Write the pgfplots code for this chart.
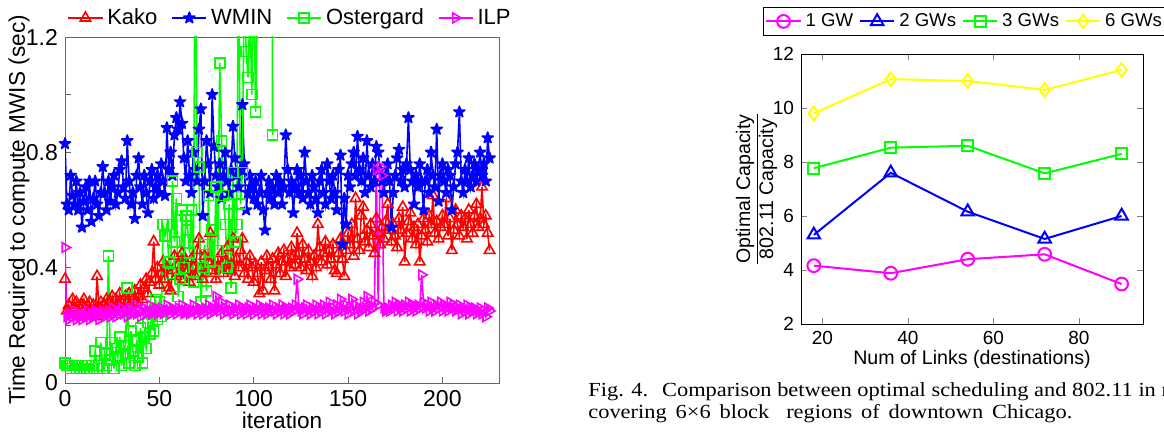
\documentclass[border=0pt]{standalone}
\usepackage{fontspec}
\setmainfont{Liberation Sans}
\newfontfamily\capfont[FakeStretch=1.12]{Liberation Serif}
\usepackage{pgfplots}
\usepackage{pgfplotstable}
\pgfplotsset{compat=1.18}
\usetikzlibrary{plotmarks}
\definecolor{mgreen}{rgb}{0,1,0}
\definecolor{mmag}{rgb}{1,0,1}
\definecolor{myel}{rgb}{1,1,0}
\pgfdeclareplotmark{pentagram}{%
  \pgfpathmoveto{\pgfpointpolar{90}{\pgfplotmarksize}}%
  \pgfpathlineto{\pgfpointpolar{234}{\pgfplotmarksize}}%
  \pgfpathlineto{\pgfpointpolar{18}{\pgfplotmarksize}}%
  \pgfpathlineto{\pgfpointpolar{162}{\pgfplotmarksize}}%
  \pgfpathlineto{\pgfpointpolar{306}{\pgfplotmarksize}}%
  \pgfpathclose
  \pgfusepathqfillstroke}

\pgfplotstableread[row sep=\\]{
y\\
0.36\\0.25\\0.27\\0.24\\0.29\\0.26\\0.28\\0.25\\0.23\\0.27\\0.29\\
0.26\\0.24\\0.28\\0.25\\0.27\\0.23\\0.37\\0.26\\0.28\\0.25\\
0.27\\0.29\\0.25\\0.28\\0.30\\0.26\\0.29\\0.27\\0.31\\0.28\\
0.26\\0.30\\0.28\\0.31\\0.27\\0.29\\0.32\\0.28\\0.30\\0.34\\
0.29\\0.33\\0.36\\0.31\\0.35\\0.38\\0.49\\0.36\\0.40\\0.34\\
0.38\\0.42\\0.36\\0.40\\0.33\\0.32\\0.39\\0.44\\0.37\\0.41\\
0.38\\0.45\\0.36\\0.42\\0.39\\0.35\\0.43\\0.40\\0.37\\0.46\\
0.50\\0.40\\0.36\\0.44\\0.38\\0.42\\0.52\\0.39\\0.41\\0.36\\
0.43\\0.40\\0.45\\0.38\\0.42\\0.47\\0.39\\0.41\\0.50\\0.37\\
0.43\\0.40\\0.46\\0.50\\0.38\\0.42\\0.36\\0.44\\0.40\\0.35\\
0.41\\0.38\\0.31\\0.42\\0.32\\0.39\\0.44\\0.40\\0.36\\0.43\\
0.32\\0.41\\0.45\\0.38\\0.42\\0.46\\0.37\\0.43\\0.40\\0.47\\
0.44\\0.41\\0.52\\0.45\\0.40\\0.48\\0.43\\0.39\\0.46\\0.42\\
0.37\\0.44\\0.40\\0.55\\0.47\\0.42\\0.45\\0.49\\0.41\\0.46\\
0.43\\0.48\\0.39\\0.38\\0.45\\0.50\\0.43\\0.37\\0.46\\0.52\\
0.48\\0.55\\0.44\\0.64\\0.50\\0.46\\0.58\\0.61\\0.49\\0.53\\
0.47\\0.55\\0.51\\0.45\\0.57\\0.52\\0.48\\0.54\\0.50\\0.56\\
0.62\\0.53\\0.49\\0.55\\0.51\\0.47\\0.57\\0.53\\0.61\\0.42\\
0.52\\0.56\\0.59\\0.50\\0.54\\0.48\\0.55\\0.42\\0.51\\0.57\\
0.53\\0.49\\0.58\\0.55\\0.65\\0.52\\0.56\\0.50\\0.54\\0.58\\
0.55\\0.64\\0.51\\0.57\\0.46\\0.53\\0.60\\0.55\\0.51\\0.58\\
0.54\\0.57\\0.50\\0.60\\0.55\\0.52\\0.58\\0.62\\0.54\\0.57\\
0.68\\0.55\\0.58\\0.52\\0.46\\
}\kako

\pgfplotstableread[row sep=\\]{
y\\
0.83\\0.62\\0.60\\0.72\\0.65\\0.62\\0.70\\0.60\\0.66\\0.54\\0.63\\
0.68\\0.60\\0.70\\0.56\\0.64\\0.70\\0.62\\0.58\\0.66\\0.75\\
0.66\\0.60\\0.70\\0.63\\0.68\\0.72\\0.62\\0.66\\0.74\\0.77\\
0.68\\0.64\\0.84\\0.70\\0.62\\0.66\\0.57\\0.72\\0.78\\0.68\\
0.62\\0.72\\0.66\\0.59\\0.70\\0.74\\0.64\\0.68\\0.72\\0.66\\
0.76\\0.70\\0.65\\0.885\\0.74\\0.80\\0.72\\0.86\\0.92\\0.88\\
0.975\\0.90\\0.78\\0.70\\0.84\\0.72\\0.66\\0.80\\0.74\\0.70\\
0.88\\0.95\\0.58\\0.70\\0.84\\0.76\\0.66\\1.00\\0.82\\0.72\\
0.68\\0.76\\0.64\\0.72\\0.80\\0.70\\0.66\\0.74\\0.89\\0.78\\
0.72\\0.68\\0.74\\0.965\\0.76\\0.60\\0.66\\0.72\\0.68\\0.64\\
0.70\\0.62\\0.66\\0.72\\0.60\\0.53\\0.66\\0.70\\0.64\\0.68\\
0.62\\0.72\\0.66\\0.70\\0.62\\0.68\\0.86\\0.74\\0.66\\0.70\\
0.59\\0.68\\0.74\\0.66\\0.72\\0.64\\0.80\\0.70\\0.66\\0.62\\
0.72\\0.68\\0.64\\0.59\\0.70\\0.74\\0.66\\0.62\\0.76\\0.70\\
0.64\\0.72\\0.66\\0.60\\0.74\\0.79\\0.48\\0.64\\0.55\\0.72\\
0.68\\0.76\\0.80\\0.72\\0.855\\0.74\\0.70\\0.78\\0.66\\0.84\\
0.72\\0.68\\0.76\\0.70\\0.82\\0.80\\0.74\\0.70\\0.66\\0.72\\
0.76\\0.70\\0.54\\0.66\\0.72\\0.78\\0.81\\0.70\\0.74\\0.68\\
0.76\\0.92\\0.74\\0.70\\0.62\\0.72\\0.68\\0.76\\0.70\\0.60\\
0.70\\0.74\\0.66\\0.80\\0.72\\0.68\\0.88\\0.63\\0.72\\0.76\\
0.70\\0.66\\0.74\\0.72\\0.60\\0.68\\0.76\\0.80\\0.94\\0.70\\
0.66\\0.74\\0.70\\0.78\\0.68\\0.72\\0.76\\0.70\\0.74\\0.80\\
0.72\\0.76\\0.70\\0.85\\0.78\\
}\wmin

\pgfplotstableread[row sep=\\]{
y\\
0.07\\0.06\\0.06\\0.05\\0.06\\0.06\\0.05\\0.06\\0.05\\0.06\\0.05\\
0.06\\0.05\\0.05\\0.06\\0.05\\0.11\\0.05\\0.06\\0.14\\0.05\\
0.10\\0.06\\0.44\\0.08\\0.14\\0.05\\0.12\\0.09\\0.16\\0.06\\
0.13\\0.10\\0.33\\0.07\\0.18\\0.11\\0.06\\0.15\\0.09\\0.19\\
0.07\\0.16\\0.12\\0.21\\0.17\\
0.24\\0.18\\0.29\\0.22\\0.28\\
0.23\\0.55\\0.51\\0.55\\0.42\\0.38\\0.70\\0.49\\0.64\\0.30\\
0.36\\0.60\\0.40\\0.58\\0.53\\0.45\\0.60\\0.35\\1.60\\0.80\\
0.75\\0.28\\0.40\\0.48\\0.32\\0.65\\0.42\\0.53\\0.39\\0.68\\
0.46\\1.11\\0.84\\0.65\\0.55\\0.40\\0.62\\0.33\\0.73\\0.49\\
0.55\\1.50\\0.62\\0.73\\1.40\\1.15\\1.06\\1.30\\1.00\\1.45\\
0.94\\1.35\\2.00\\2.50\\1.80\\3.00\\2.20\\2.80\\4.00\\0.86\\
}\oster

\pgfplotstableread[row sep=\\]{
y\\
0.47\\0.23\\0.22\\0.24\\0.23\\0.25\\0.22\\0.24\\0.23\\0.22\\0.24\\
0.23\\0.25\\0.22\\0.24\\0.23\\0.25\\0.24\\0.22\\0.24\\0.25\\
0.23\\0.24\\0.25\\0.23\\0.26\\0.24\\0.23\\0.25\\0.24\\0.26\\
0.24\\0.25\\0.23\\0.26\\0.24\\0.25\\0.27\\0.24\\0.25\\0.23\\
0.25\\0.26\\0.24\\0.25\\0.27\\0.24\\0.25\\0.26\\0.24\\0.25\\
0.26\\0.24\\0.25\\0.27\\0.25\\0.24\\0.26\\0.25\\0.24\\0.26\\
0.25\\0.27\\0.24\\0.25\\0.26\\0.24\\0.25\\0.27\\0.25\\0.24\\
0.26\\0.25\\0.24\\0.26\\0.25\\0.27\\0.24\\0.26\\0.25\\0.30\\
0.26\\0.25\\0.28\\0.24\\0.26\\0.25\\0.27\\0.25\\0.24\\0.26\\
0.25\\0.27\\0.24\\0.26\\0.25\\0.24\\0.26\\0.27\\0.25\\0.24\\
0.26\\0.25\\0.27\\0.24\\0.26\\0.25\\0.24\\0.26\\0.25\\0.27\\
0.25\\0.24\\0.26\\0.25\\0.27\\0.24\\0.26\\0.25\\0.24\\0.26\\
0.25\\0.27\\0.36\\0.26\\0.25\\0.24\\0.26\\0.27\\0.25\\0.24\\
0.26\\0.25\\0.27\\0.24\\0.26\\0.25\\0.27\\0.24\\0.26\\0.28\\
0.25\\0.26\\0.24\\0.27\\0.25\\0.29\\0.26\\0.25\\0.27\\0.24\\
0.26\\0.29\\0.25\\0.27\\0.24\\0.26\\0.25\\0.28\\0.26\\0.30\\
0.25\\0.27\\0.26\\0.28\\0.74\\0.27\\0.75\\0.72\\0.26\\0.25\\
0.26\\0.25\\0.27\\0.26\\0.28\\0.25\\0.27\\0.26\\0.25\\0.27\\
0.26\\0.28\\0.25\\0.27\\0.26\\0.25\\0.27\\0.26\\0.375\\0.28\\
0.26\\0.27\\0.25\\0.28\\0.26\\0.25\\0.27\\0.26\\0.28\\0.25\\
0.27\\0.26\\0.25\\0.28\\0.26\\0.27\\0.25\\0.26\\0.27\\0.24\\
0.26\\0.25\\0.27\\0.24\\0.26\\0.25\\0.26\\0.24\\0.25\\0.26\\
0.24\\0.25\\0.23\\0.26\\0.25\\
}\ilp

\begin{document}
\begin{tikzpicture}
\begin{axis}[
  at={(32.5pt,24.5pt)}, anchor=south west, scale only axis,
  width=217pt, height=173pt,
  xmin=0, xmax=230, ymin=0, ymax=1.2,
  xtick={0,50,100,150,200},
  ytick={0,0.2,0.4,0.6,0.8,1.0,1.2},
  yticklabels={0,,0.4,,0.8,,1.2},
  tick align=inside, xtick pos=lower, ytick pos=left,
  major tick length=3pt,
  axis line style={black!60}, tick style={black!60},
  ticklabel style={font=\fontsize{11.5}{13}\selectfont},
  /pgf/number format/assume math mode=true,
  xlabel={iteration}, ylabel={Time Required to compute MWIS (sec)},
  label style={font=\fontsize{11.3}{13}\selectfont},
  xlabel style={at={(axis description cs:0.5,-0.107)},anchor=center},
  ylabel style={at={(axis description cs:-0.106,0.5)},anchor=center},
  legend columns=4,
  legend style={draw=none, fill=none, at={(axis description cs:0.005,1.055)}, anchor=west,
    font=\fontsize{11}{13}\selectfont, inner sep=0pt,
    /tikz/every even column/.append style={column sep=5pt}},
  legend cell align=left,
]
\addplot[color=red, line width=0.8pt, mark=triangle, mark size=3pt, mark options={solid}]
  table[x expr=\coordindex, y=y]{\kako};
\addlegendentry{Kako}
\addplot[color=blue, line width=0.8pt, mark=pentagram, mark size=2.9pt, mark options={solid, fill=blue, line join=round}]
  table[x expr=\coordindex, y=y]{\wmin};
\addlegendentry{WMIN}
\addplot[color=mgreen, line width=0.8pt, mark=square, mark size=2.5pt, mark options={solid}]
  table[x expr=\coordindex, y=y]{\oster};
\addlegendentry{Ostergard}
\addplot[color=mmag, line width=0.8pt, mark=triangle, mark size=2.8pt, mark options={solid, rotate=-90}]
  table[x expr=\coordindex, y=y]{\ilp};
\addlegendentry{ILP}
\end{axis}

\begin{axis}[
  at={(400.5pt,54pt)}, anchor=south west, scale only axis,
  width=171pt, height=135pt,
  xmin=15, xmax=95, ymin=2, ymax=12,
  xtick={20,40,60,80}, ytick={2,4,6,8,10,12},
  tick align=inside, major tick length=3pt,
  ticklabel style={font=\fontsize{9.5}{11}\selectfont},
  /pgf/number format/assume math mode=true,
  xlabel={Num of Links (destinations)},
  ylabel={\underline{Optimal Capacity}\\802.11 Capacity},
  label style={font=\fontsize{9.8}{11.5}\selectfont},
  xlabel style={at={(axis description cs:0.5,-0.133)},anchor=center},
  ylabel style={at={(axis description cs:-0.13,0.5)},anchor=center,align=center},
  legend columns=4,
  legend style={draw=black, at={(axis description cs:-0.111,1.174)}, anchor=north west,
    font=\fontsize{9.3}{11}\selectfont, inner sep=1pt,
    /tikz/every even column/.append style={column sep=1pt}},
  legend cell align=left,
]
\addplot[color=mmag, line width=1pt, mark=o, mark size=3.2pt, mark options={solid}]
  coordinates {(18,4.16)(36,3.88)(54,4.40)(72,4.58)(90,3.48)};
\addlegendentry{1 GW}
\addplot[color=blue, line width=1pt, mark=triangle, mark size=3.6pt, mark options={solid}]
  coordinates {(18,5.30)(36,7.60)(54,6.16)(72,5.15)(90,6.00)};
\addlegendentry{2 GWs}
\addplot[color=mgreen, line width=1pt, mark=square, mark size=2.7pt, mark options={solid}]
  coordinates {(18,7.77)(36,8.53)(54,8.60)(72,7.58)(90,8.30)};
\addlegendentry{3 GWs}
\addplot[color=myel, line width=1pt, mark=diamond, mark size=3.4pt, mark options={solid}]
  coordinates {(18,9.80)(36,11.07)(54,11.00)(72,10.67)(90,11.41)};
\addlegendentry{6 GWs}
\end{axis}

\node[anchor=base west, inner sep=0pt, font=\capfont\fontsize{10}{12}\selectfont] at (294pt,17.5pt)
  {Fig. 4.\hspace{0.7em}Comparison between optimal scheduling and 802.11 in multi-gateway networks};
\node[anchor=base west, inner sep=0pt, font=\capfont\fontsize{10}{12}\selectfont] at (294pt,6.5pt)
  {\makebox[242pt][s]{covering 6×6 block\hspace{0.4em} regions of downtown Chicago.}};

\pgfresetboundingbox
\useasboundingbox (0pt,0pt) rectangle (582pt,216pt);
\end{tikzpicture}
\end{document}
